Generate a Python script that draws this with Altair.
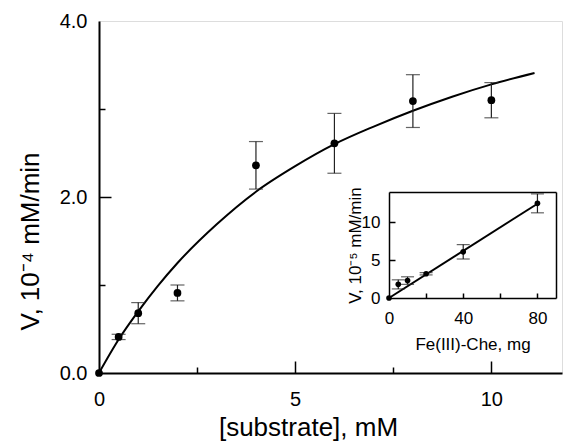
import altair as alt
import pandas as pd

# ---------------- data ----------------
# main panel: substrate concentration (mM) vs rate (10^-4 mM/min)
sub_mM = [0, 0.5, 1, 2, 4, 6, 8, 10]
rate = [0, 0.41, 0.68, 0.91, 2.36, 2.61, 3.09, 3.10]
rate_err = [0, 0.03, 0.12, 0.09, 0.27, 0.34, 0.30, 0.20]

# fitted saturation curve
fit_s = [0, 0.5, 1, 1.5, 2, 3, 4, 5, 6, 7, 8, 9, 10, 11.1]
fit_v = [0, 0.38, 0.70, 0.99, 1.25, 1.69, 2.06, 2.35, 2.60, 2.80, 2.98, 3.14, 3.28, 3.41]

# inset: Fe(III)-Che amount (mg) vs rate (10^-5 mM/min)
fe_mg = [0, 5, 10, 20, 40, 80]
rate5 = [0, 1.8, 2.3, 3.2, 6.1, 12.5]
rate5_err = [0, 0.6, 0.5, 0.15, 0.95, 1.25]

lin_fe = [0, 80]
lin_v = [0, 12.45]

# axis ticks / labels
main_x_labels = [0, 5, 10]
main_x_ticks = [2.5, 5, 7.5, 10]
main_y_labels = [0, 2, 4]
main_y_ticks = [1, 2, 3]
inset_x_labels = [0, 40, 80]
inset_x_ticks = [20, 40, 60, 80]
inset_y_labels = [0, 5, 10]
inset_y_ticks = [5, 10]

# ---------------- layout ----------------
PAD = {"left": 91, "top": 13, "right": 1, "bottom": 70}
W, H = 463, 352
IX = [290, 457]      # inset x range (pixels inside plot)
IY = [277, 171]      # inset y range (pixels inside plot)
FONT = "Liberation Sans"

main_df = pd.DataFrame({"s": sub_mM, "v": rate, "e": rate_err})
main_df["lo"] = main_df["v"] - main_df["e"]
main_df["hi"] = main_df["v"] + main_df["e"]
main_err = main_df[main_df["e"] > 0]
main_caps = pd.DataFrame({
    "s": list(main_err["s"]) * 2,
    "c": list(main_err["lo"]) + list(main_err["hi"]),
})
fit_df = pd.DataFrame({"s": fit_s, "v": fit_v})

ins_df = pd.DataFrame({"s": fe_mg, "v": rate5, "e": rate5_err})
ins_df["lo"] = ins_df["v"] - ins_df["e"]
ins_df["hi"] = ins_df["v"] + ins_df["e"]
ins_err = ins_df[ins_df["e"] > 0]
ins_caps = pd.DataFrame({
    "s": list(ins_err["s"]) * 2,
    "c": list(ins_err["lo"]) + list(ins_err["hi"]),
})
lin_df = pd.DataFrame({"s": lin_fe, "v": lin_v})

xs = alt.Scale(domain=[0, 11.8], nice=False, zero=False)
ys = alt.Scale(domain=[0, 4], nice=False, zero=False)
ixs = alt.Scale(domain=[0, 90], range=IX, nice=False, zero=False)
iys = alt.Scale(domain=[0, 14], range=IY, nice=False, zero=False)

ERR_COLOR = "#222222"

# ---------------- main panel ----------------
curve = alt.Chart(fit_df).mark_line(color="black", strokeWidth=2, interpolate="monotone").encode(
    x=alt.X("s:Q", scale=xs, axis=alt.Axis(
        values=main_x_labels, ticks=False, grid=False, labelFlush=False,
        domain=True, domainColor="black", domainWidth=2,
        labelFontSize=20, labelPadding=16, labelColor="black",
        title="[substrate], mM", titleFontSize=26, titleFontWeight="normal",
        titleColor="black", titleBaseline="alphabetic", titleX=209, titleY=62)),
    y=alt.Y("v:Q", scale=ys, axis=alt.Axis(
        values=main_y_labels, format=".1f", ticks=False, grid=False, labelFlush=False,
        domain=True, domainColor="black", domainWidth=2,
        labelFontSize=20, labelPadding=12, labelColor="black",
        title="V,  10⁻⁴  mM/min", titleFontSize=26, titleFontWeight="normal",
        titleColor="black", titleBaseline="alphabetic", titleX=-61, titleY=220)),
)

main_bars = alt.Chart(main_err).mark_rule(color=ERR_COLOR, strokeWidth=1.2).encode(
    x=alt.X("s:Q", scale=xs, axis=alt.Axis(
        orient="top", offset=-H, values=main_x_ticks, labels=False, domain=False,
        grid=False, title="", tickColor="black", tickWidth=1.5,
        tickSize={"condition": {"test": "datum.value % 5 === 0", "value": 12}, "value": 6})),
    y=alt.Y("lo:Q", scale=ys, axis=alt.Axis(
        orient="right", offset=-W, values=main_y_ticks, labels=False, domain=False,
        grid=False, title="", tickColor="black", tickWidth=1.5,
        tickSize={"condition": {"test": "datum.value % 2 === 0", "value": 12}, "value": 6})),
    y2="hi:Q",
)

main_caps_l = alt.Chart(main_caps).mark_tick(
    orient="horizontal", size=14, thickness=1.2, color=ERR_COLOR
).encode(
    x=alt.X("s:Q", scale=xs, axis=None),
    y=alt.Y("c:Q", scale=ys, axis=None),
)

main_pts = alt.Chart(main_df).mark_circle(size=60, color="black", opacity=1).encode(
    x=alt.X("s:Q", scale=xs, axis=None),
    y=alt.Y("v:Q", scale=ys, axis=None),
)

main = alt.layer(curve, main_bars, main_caps_l, main_pts).resolve_axis(
    x="independent", y="independent")

# ---------------- inset ----------------
ins_line = alt.Chart(lin_df).mark_line(color="black", strokeWidth=2).encode(
    x=alt.X("s:Q", scale=ixs, axis=alt.Axis(
        orient="bottom", offset=-(H - IY[0]),
        values=inset_x_labels, ticks=False, grid=False, labelFlush=False,
        domain=True, domainColor="black", domainWidth=1.5,
        labelFontSize=17, labelPadding=12, labelColor="black",
        title="Fe(III)-Che, mg", titleFontSize=17, titleFontWeight="normal",
        titleColor="black", titleBaseline="alphabetic", titleY=51)),
    y=alt.Y("v:Q", scale=iys, axis=alt.Axis(
        orient="left", offset=-IX[0], values=inset_y_labels, ticks=False, grid=False,
        labelFlush=False, domain=True, domainColor="black", domainWidth=1.5,
        labelFontSize=17, labelPadding=9, labelColor="black",
        title="V, 10⁻⁵ mM/min", titleFontSize=17, titleFontWeight="normal",
        titleColor="black", titleBaseline="alphabetic", titleX=-29)),
)

ins_bars = alt.Chart(ins_err).mark_rule(color=ERR_COLOR, strokeWidth=1.2).encode(
    x=alt.X("s:Q", scale=ixs, axis=alt.Axis(
        orient="top", offset=-IY[0], values=inset_x_ticks, labels=False, domain=False,
        grid=False, title="", tickColor="black", tickWidth=1.5, tickSize=5)),
    y=alt.Y("lo:Q", scale=iys, axis=alt.Axis(
        orient="right", offset=-(W - IX[0]), values=inset_y_ticks, labels=False,
        domain=False, grid=False, title="", tickColor="black", tickWidth=1.5, tickSize=6)),
    y2="hi:Q",
)

ins_caps_l = alt.Chart(ins_caps).mark_tick(
    orient="horizontal", size=13, thickness=1.2, color=ERR_COLOR
).encode(
    x=alt.X("s:Q", scale=ixs, axis=alt.Axis(
        orient="top", offset=-IY[1], ticks=False, labels=False, grid=False,
        domain=True, domainColor="black", domainWidth=1.5, title="")),
    y=alt.Y("c:Q", scale=iys, axis=alt.Axis(
        orient="right", offset=-(W - IX[1]), ticks=False, labels=False, grid=False,
        domain=True, domainColor="black", domainWidth=1.5, title="")),
)

ins_pts = alt.Chart(ins_df).mark_circle(size=32, color="black", opacity=1).encode(
    x=alt.X("s:Q", scale=ixs, axis=None),
    y=alt.Y("v:Q", scale=iys, axis=None),
)

inset = alt.layer(ins_line, ins_bars, ins_caps_l, ins_pts).resolve_axis(
    x="independent", y="independent")

chart = alt.layer(main, inset).resolve_scale(
    x="independent", y="independent"
).resolve_axis(
    x="independent", y="independent"
).properties(
    width=W, height=H,
    padding=PAD,
    autosize=alt.AutoSizeParams(type="none"),
).configure_view(
    stroke="black", strokeWidth=2
).configure_axis(
    labelFont=FONT, titleFont=FONT
).configure(background="white")

chart.save("out.html", embed_options={"renderer": "svg", "actions": False})
